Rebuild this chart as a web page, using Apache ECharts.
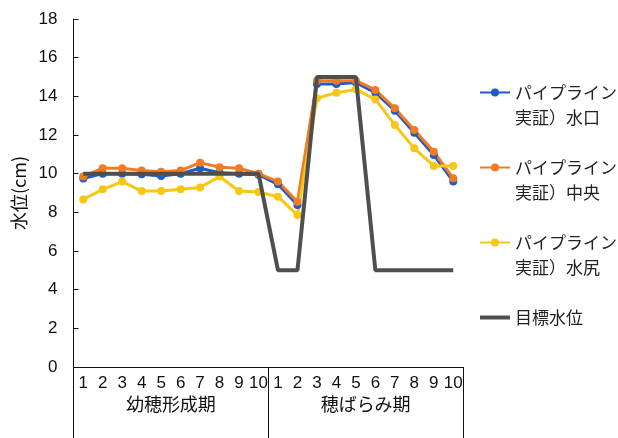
<!DOCTYPE html>
<html>
<head>
<meta charset="utf-8">
<script src="https://cdn.jsdelivr.net/npm/echarts@6/dist/echarts.min.js"></script>
<style>
  html, body { margin: 0; padding: 0; background: #fff; }
  #chart { width: 618px; height: 438px; }
</style>
</head>
<body>
<div id="chart"></div>
<script>
// Growth stages and the day labels under each stage
const stages = ['幼穂形成期', '穂ばらみ期'];
const dayLabels = ['1', '2', '3', '4', '5', '6', '7', '8', '9', '10'];

// Water level (cm) at each measuring point
const inletLevel = [9.75, 10.0, 10.0, 9.97, 9.88, 10.0, 10.28, 10.05, 10.0, 9.95,
                    9.45, 8.38, 14.64, 14.64, 14.71, 14.19, 13.26, 12.12, 10.97, 9.59];
const middleLevel = [9.85, 10.28, 10.28, 10.16, 10.1, 10.16, 10.57, 10.33, 10.28, 10.0,
                     9.59, 8.55, 14.81, 14.81, 14.81, 14.33, 13.38, 12.26, 11.14, 9.76];
const outletLevel = [8.67, 9.19, 9.59, 9.1, 9.1, 9.2, 9.29, 9.85, 9.1, 9.05,
                     8.81, 7.86, 13.9, 14.19, 14.36, 13.84, 12.52, 11.31, 10.4, 10.4];
const targetLevel = [10, 10, 10, 10, 10, 10, 10, 10, 10, 10,
                     5, 5, 15, 15, 15, 5, 5, 5, 5, 5];

const seriesNames = ['パイプライン\n実証）水口', 'パイプライン\n実証）中央', 'パイプライン\n実証）水尻', '目標水位'];

// Unique keys per (stage, day) so duplicate day numbers stay distinct
const categories = [];
stages.forEach(s => dayLabels.forEach(d => categories.push(s + '|' + d)));

const latin = '"Liberation Sans", Arial, sans-serif';
const cjk = '"Noto Sans CJK JP", sans-serif';

function measured(name, data, color) {
  return {
    name: name,
    type: 'line',
    data: data,
    symbol: 'circle',
    symbolSize: 8,
    lineStyle: { width: 3, color: color },
    itemStyle: { color: color },
    z: 2
  };
}

const chart = echarts.init(document.getElementById('chart'), null, { renderer: 'canvas' });
chart.setOption({
  animation: false,
  backgroundColor: '#ffffff',
  grid: { left: 73.5, right: 155, top: 19, bottom: 71 },
  legend: {
    orient: 'vertical',
    left: 478,
    top: 55,
    padding: 0,
    itemGap: 0,
    itemWidth: 30,
    itemHeight: 10,
    // blank lines keep the marker beside the first text line, items evenly spaced
    formatter: name => name.indexOf('\n') >= 0 ? '\n' + name : '\n' + name + '\n',
    textStyle: { fontFamily: cjk, fontSize: 17, color: '#222', lineHeight: 25 },
    data: [
      { name: seriesNames[0] },
      { name: seriesNames[1] },
      { name: seriesNames[2] },
      { name: seriesNames[3], itemStyle: { opacity: 0 }, lineStyle: { width: 4 } }
    ]
  },
  xAxis: [
    {
      type: 'category',
      data: categories,
      position: 'bottom',
      boundaryGap: true,
      axisLine: { show: true, lineStyle: { color: '#111', width: 1 } },
      axisTick: { show: false },
      axisLabel: {
        interval: 0,
        margin: 8,
        fontFamily: latin,
        fontSize: 17,
        color: '#111',
        formatter: v => v.split('|')[1]
      },
      splitLine: { show: false }
    },
    {
      type: 'category',
      data: stages,
      position: 'bottom',
      boundaryGap: true,
      axisLine: { show: false },
      axisTick: { show: true, length: 71, lineStyle: { color: '#111', width: 1 } },
      axisLabel: { interval: 0, margin: 28, fontFamily: cjk, fontSize: 18, color: '#111' },
      splitLine: { show: false }
    }
  ],
  yAxis: {
    type: 'value',
    min: 0,
    max: 18,
    interval: 2,
    name: '水位(cm)',
    nameLocation: 'middle',
    nameGap: 44,
    nameRotate: 90,
    nameTextStyle: { fontFamily: cjk, fontSize: 18, color: '#111' },
    axisLine: { show: true, lineStyle: { color: '#111', width: 1 } },
    axisTick: { show: true, inside: true, length: 5, lineStyle: { color: '#111' } },
    axisLabel: { margin: 16, fontFamily: latin, fontSize: 17, color: '#111' },
    splitLine: { show: false }
  },
  series: [
    measured(seriesNames[0], inletLevel, '#1f5bc4'),
    measured(seriesNames[1], middleLevel, '#f47a22'),
    measured(seriesNames[2], outletLevel, '#f7c716'),
    {
      name: seriesNames[3],
      type: 'line',
      data: targetLevel,
      symbol: 'none',
      lineStyle: { width: 4, color: '#4f4f4f' },
      itemStyle: { color: '#4f4f4f' },
      z: 3
    }
  ]
});
</script>
</body>
</html>
